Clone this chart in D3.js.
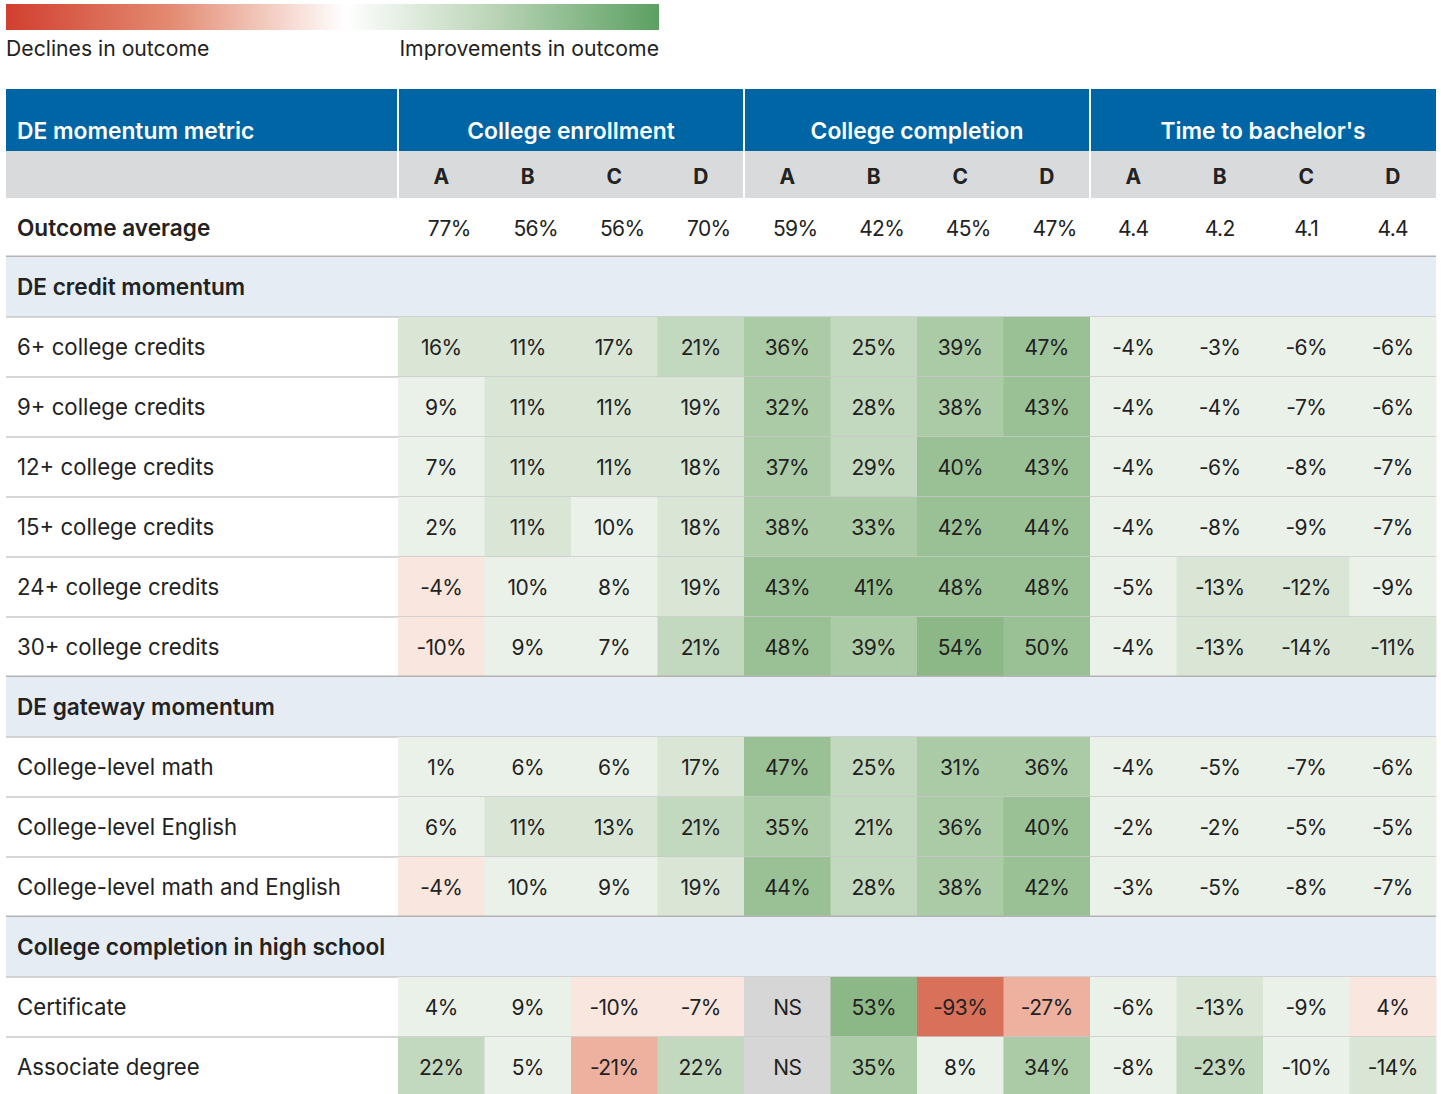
<!DOCTYPE html>
<html><head><meta charset="utf-8">
<script src="https://cdn.jsdelivr.net/npm/d3@7"></script>
<style>
html,body{margin:0;padding:0;background:#fff;}
svg{display:block;font-family:Inter, "Liberation Sans", sans-serif;}
</style></head>
<body><svg id="chart" width="1441" height="1094"></svg>
<script>
// ---------- data ----------
const groups = ["College enrollment", "College completion", "Time to bachelor's"];
const subCols = ["A", "B", "C", "D"];
const outcomeAverage = ["77%","56%","56%","70%","59%","42%","45%","47%","4.4","4.2","4.1","4.4"];
const sections = ["DE credit momentum", "DE gateway momentum", "College completion in high school"];
const creditLabels = ["6+ college credits","9+ college credits","12+ college credits","15+ college credits","24+ college credits","30+ college credits"];
const creditValues = [
  [16,11,17,21, 36,25,39,47, -4,-3,-6,-6],
  [9,11,11,19, 32,28,38,43, -4,-4,-7,-6],
  [7,11,11,18, 37,29,40,43, -4,-6,-8,-7],
  [2,11,10,18, 38,33,42,44, -4,-8,-9,-7],
  [-4,10,8,19, 43,41,48,48, -5,-13,-12,-9],
  [-10,9,7,21, 48,39,54,50, -4,-13,-14,-11]
];
const gatewayLabels = ["College-level math","College-level English","College-level math and English"];
const gatewayValues = [
  [1,6,6,17, 47,25,31,36, -4,-5,-7,-6],
  [6,11,13,21, 35,21,36,40, -2,-2,-5,-5],
  [-4,10,9,19, 44,28,38,42, -3,-5,-8,-7]
];
const hsLabels = ["Certificate","Associate degree"];
const hsValues = [
  [4,9,-10,-7, null,53,-93,-27, -6,-13,-9,4],
  [22,5,-21,22, null,35,8,34, -8,-23,-10,-14]
];
// sign: +1 when higher value is an improvement, -1 when lower is better
const groupDirection = [1, 1, -1];
const legendLabels = ["Declines in outcome", "Improvements in outcome"];

// ---------- styles ----------
const left = 6, right = 1436, labelRight = 398;
const blue = "#0065a4";
const greens = ["#eaf1e8","#d9e6d6","#c2d8bf","#abcaa6","#9ac195","#8cb888"];
const reds   = ["#f9e6df","#f3cbbd","#efb19f","#e8937d","#e08269","#d9705a"];
const txt = "#222222";
const FS = 21, FL = 22.2, FB = 22.6, FH = 22.8;

const svg = d3.select("#chart");

// legend gradient
const defs = svg.append("defs");
const lg = defs.append("linearGradient").attr("id","lg").attr("x1","0").attr("x2","1");
[["0%","#d13f2e"],["25%","#e38a70"],["52%","#ffffff"],["75%","#b9d4b5"],["100%","#5ba062"]]
  .forEach(([o,c]) => lg.append("stop").attr("offset",o).attr("stop-color",c));
svg.append("rect").attr("x",6).attr("y",4).attr("width",653).attr("height",26).attr("fill","url(#lg)");
svg.append("text").attr("x",6).attr("y",56).attr("font-size",21.2).attr("fill",txt).text(legendLabels[0]);
svg.append("text").attr("x",659).attr("y",56).attr("text-anchor","end").attr("font-size",21.2).attr("fill",txt).text(legendLabels[1]);

// scales
const colKeys = d3.range(12);
const x = d3.scaleBand().domain(colKeys).range([labelRight, right]).padding(0);
const xg = d3.scaleBand().domain(groups).range([labelRight, right]).padding(0);
const greenScale = d3.scaleThreshold().domain([10.5,20,30,40,51]).range(greens);
const redScale = d3.scaleThreshold().domain([10.5,20,30,40,51]).range(reds);
function cellColor(v, i) {
  if (v === null) return "#d6d6d6";
  const s = v * groupDirection[Math.floor(i/4)];
  return s >= 0 ? greenScale(s) : redScale(-s);
}

// header
const yHead = 89, hHead = 62, hSub = 47;
svg.append("rect").attr("x",left).attr("y",yHead).attr("width",right-left).attr("height",hHead).attr("fill",blue);
svg.append("rect").attr("x",left).attr("y",yHead+hHead).attr("width",right-left).attr("height",hSub).attr("fill","#d9dadc");
svg.append("text").attr("x",17).attr("y",yHead+50).attr("font-size",FH).attr("font-weight",600).attr("fill","#fff").text("DE momentum metric");
svg.selectAll(".gh").data(groups).join("text")
  .attr("x",d => xg(d)+xg.bandwidth()/2).attr("y",yHead+50)
  .attr("text-anchor","middle").attr("font-size",FH).attr("font-weight",600).attr("fill","#fff").text(d=>d);
svg.selectAll(".sc").data(colKeys).join("text")
  .attr("x",d => x(d)+x.bandwidth()/2).attr("y",yHead+hHead+hSub/2+9)
  .attr("text-anchor","middle").attr("font-size",21).attr("font-weight",700).attr("fill",txt).text(d=>subCols[d%4]);
svg.selectAll(".gsep").data(groups).join("line")
  .attr("x1",d=>xg(d)).attr("x2",d=>xg(d)).attr("y1",yHead).attr("y2",yHead+hHead+hSub)
  .attr("stroke","#fff").attr("stroke-width",2);

// rows
const rows = [];
rows.push({type:"avg", label:"Outcome average", vals:outcomeAverage});
rows.push({type:"sec", label:sections[0]});
creditLabels.forEach((l,i)=>rows.push({type:"data", label:l, vals:creditValues[i]}));
rows.push({type:"sec", label:sections[1]});
gatewayLabels.forEach((l,i)=>rows.push({type:"data", label:l, vals:gatewayValues[i]}));
rows.push({type:"sec", label:sections[2]});
hsLabels.forEach((l,i)=>rows.push({type:"data", label:l, vals:hsValues[i]}));

let y0 = yHead + hHead + hSub;
rows.forEach(r => {
  r.h = r.type === "avg" ? 59 : 60;
  r.y = y0; y0 += r.h;
});

rows.forEach((r, ri) => {
  const g = svg.append("g");
  if (r.type === "sec") {
    g.append("rect").attr("x",left).attr("y",r.y).attr("width",right-left).attr("height",r.h).attr("fill","#e6ecf4");
    g.append("text").attr("x",17).attr("y",r.y+r.h/2+8).attr("font-size",FB).attr("font-weight",600).attr("fill",txt).text(r.label);
  } else {
    g.append("text").attr("x",17).attr("y",r.y+r.h/2+8)
      .attr("font-size", r.type==="avg"?FB:FL)
      .attr("font-weight", r.type==="avg"?600:400).attr("fill",txt).text(r.label);
    if (r.type === "data") {
      g.selectAll("rect").data(r.vals).join("rect")
        .attr("x",(d,i)=>x(i)).attr("y",r.y).attr("width",x.bandwidth()+0.5).attr("height",r.h)
        .attr("fill",(d,i)=>cellColor(d,i));
    }
    g.selectAll("text.v").data(r.vals).join("text").attr("class","v")
      .attr("x",(d,i)=>x(i)+x.bandwidth()/2 + (r.type==="avg" && String(d).endsWith("%") ? 8 : 0)).attr("y",r.y+r.h/2+8)
      .attr("text-anchor","middle").attr("font-size",FS).attr("fill",txt)
      .attr("letter-spacing", -0.6)
      .text(d => r.type==="avg" ? d : (d===null ? "NS" : d + "%"));
  }
  const next = rows[ri+1];
  if (next) {
    const thick = next.type === "sec";
    svg.append("line").attr("x1",left).attr("x2",right).attr("y1",r.y+r.h).attr("y2",r.y+r.h)
      .attr("stroke", thick ? "#b3b3b3" : "#c8c8c8").attr("stroke-width", thick ? 3 : 1.5);
  }
});
</script>
</body></html>
